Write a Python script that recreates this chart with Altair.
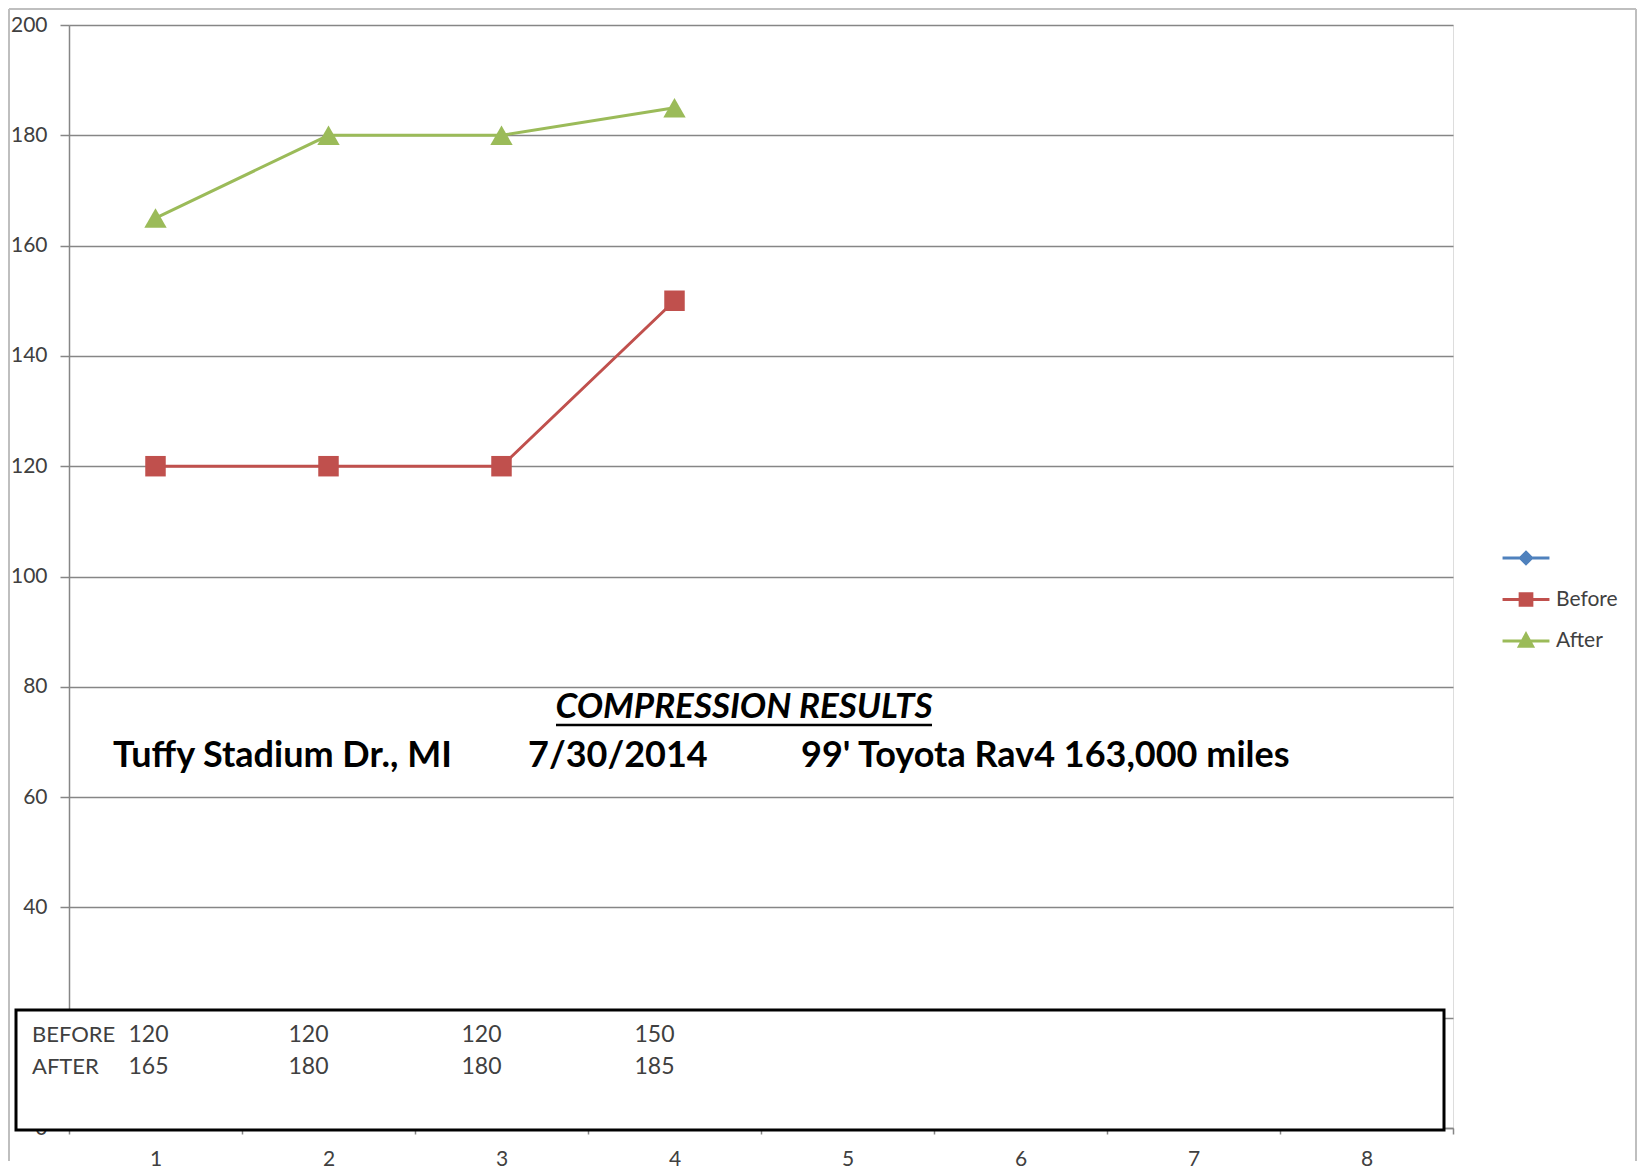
import altair as alt
import pandas as pd

# ---- data ----
categories = [1, 2, 3, 4, 5, 6, 7, 8]
measured = [1, 2, 3, 4]
before = [120, 120, 120, 150]
after = [165, 180, 180, 185]
series_names = [" ", "Before", "After"]
series_colors = ["#4F81BD", "#C0504D", "#9BBB59"]
legend_paths = [
    "M-1,0H1M0,-0.24L0.24,0L0,0.24L-0.24,0Z",
    "M-1,0H1M-0.25,-0.25H0.25V0.25H-0.25Z",
    "M-1,0H1M0,-0.29L0.28,0.22H-0.28Z",
]
y_ticks = [0, 20, 40, 60, 80, 100, 120, 140, 160, 180, 200]
box_rows = ["BEFORE", "AFTER"]
title_text = "COMPRESSION RESULTS"
subtitle_parts = ["Tuffy Stadium Dr., MI", "7/30/2014", "99' Toyota Rav4  163,000 miles"]

df = pd.DataFrame({
    "cyl": measured * 2,
    "psi": before + after,
    "series": ["Before"] * len(before) + ["After"] * len(after),
})
legend_df = pd.DataFrame({"series": series_names})

W, H = 1384, 1103
FONT = "Lato"

x_scale = alt.Scale(type="band", domain=categories, paddingInner=0, paddingOuter=0)
x_enc = alt.X(
    "cyl:O",
    scale=x_scale,
    axis=alt.Axis(
        title=None, labelAngle=0, labelFont=FONT, labelFontSize=21, labelColor="#404040",
        tickBand="extent", tickSize=6, tickColor="#868686", domainColor="#868686",
        domainWidth=1.5, tickWidth=1.5, labelPadding=14, grid=False,
    ),
)
y_enc = alt.Y(
    "psi:Q",
    scale=alt.Scale(domain=[0, 200], nice=False, zero=True),
    axis=alt.Axis(
        title=None, values=y_ticks, labelFont=FONT, labelFontSize=21, labelColor="#404040",
        tickSize=9, tickColor="#868686", domainColor="#868686", domainWidth=1.5,
        tickWidth=1.5, labelPadding=13, grid=True, gridColor="#868686", gridWidth=1.5,
    ),
)
color_scale = alt.Scale(domain=series_names, range=series_colors)

base = alt.Chart(df)

# legend-only layer (draws no marks, carries the legend)
legend_layer = alt.Chart(legend_df).transform_filter("false").mark_point(
    filled=True, size=2200, strokeWidth=3, opacity=1
).encode(
    color=alt.Color(
        "series:N", scale=color_scale,
        legend=alt.Legend(
            title=None, orient="none", legendX=1432, legendY=508, padding=0,
            labelFont=FONT, labelFontSize=21, labelColor="#404040", labelOffset=5,
            symbolSize=2200, symbolStrokeWidth=3, rowPadding=4.5,
        ),
    ),
    stroke=alt.Stroke("series:N", scale=alt.Scale(domain=series_names, range=series_colors)),
    shape=alt.Shape("series:N", scale=alt.Scale(domain=series_names, range=legend_paths)),
)

lines = base.mark_line(strokeWidth=3).encode(
    x=x_enc, y=y_enc, color=alt.Color("series:N", scale=color_scale, legend=None)
)
squares = base.transform_filter(alt.datum.series == "Before").mark_point(
    shape="square", filled=True, size=420, opacity=1, strokeWidth=0
).encode(x=x_enc, y=y_enc, color=alt.Color("series:N", scale=color_scale, legend=None))
triangles = base.transform_filter(alt.datum.series == "After").mark_point(
    shape="triangle-up", filled=True, size=500, opacity=1, strokeWidth=0
).encode(x=x_enc, y=y_enc, color=alt.Color("series:N", scale=color_scale, legend=None))

# text box with the readings
one_row = pd.DataFrame({"t": [title_text]})
box = alt.Chart(one_row).mark_rect(
    fill="white", stroke="black", strokeWidth=3
).encode(x=alt.value(-53), x2=alt.value(1375), y=alt.value(985), y2=alt.value(1105))

row_y = [1010, 1042]
row_label_marks = [
    alt.Chart(pd.DataFrame({"row": [r]})).mark_text(
        align="left", baseline="middle", font=FONT, fontSize=22, color="#404040"
    ).encode(x=alt.value(-37), y=alt.value(yy), text="row:N")
    for r, yy in zip(box_rows, row_y)
]
value_marks = []
for s, yy in zip(["Before", "After"], row_y):
    for cond, shift in [(alt.datum.cyl == 1, -27), (alt.datum.cyl > 1, -40)]:
        value_marks.append(
            base.transform_filter(alt.datum.series == s).transform_filter(cond).mark_text(
                align="left", baseline="middle", font=FONT, fontSize=23, color="#404040", dx=shift
            ).encode(x=alt.X("cyl:O", scale=x_scale), y=alt.value(yy), text="psi:Q")
        )

title_mark = alt.Chart(one_row).mark_text(
    align="center", baseline="middle", font=FONT, fontSize=35, fontWeight="bold",
    fontStyle="italic", color="black"
).encode(x=alt.value(675), y=alt.value(682), text="t:N")
underline = alt.Chart(one_row).mark_rule(color="black", strokeWidth=2.5).encode(
    x=alt.value(487), x2=alt.value(863), y=alt.value(700)
)

sub_x = [44, 459, 732]
sub_marks = [
    alt.Chart(pd.DataFrame({"part": [p]})).mark_text(
        align="left", baseline="middle", font=FONT, fontSize=36, fontWeight="bold", color="black"
    ).encode(x=alt.value(xx), y=alt.value(731), text="part:N")
    for p, xx in zip(subtitle_parts, sub_x)
]

# outer chart-area border (Excel chart frame)
frame_src = alt.Chart(one_row)
frame = [
    frame_src.mark_rule(color="#BFBFBF", strokeWidth=2).encode(x=alt.value(-60), y=alt.value(-16), y2=alt.value(1136)),
    frame_src.mark_rule(color="#BFBFBF", strokeWidth=2).encode(x=alt.value(-60), x2=alt.value(1567), y=alt.value(-16)),
    frame_src.mark_rule(color="#BFBFBF", strokeWidth=2).encode(x=alt.value(1567), y=alt.value(-16), y2=alt.value(1136)),
]

chart = alt.layer(
    legend_layer, lines, squares, triangles, box, *row_label_marks, *value_marks,
    title_mark, underline, *sub_marks, *frame
).properties(
    width=W, height=H, padding=0
).configure_view(stroke=None).configure(background="white")

chart.save("out.html", embed_options={"renderer": "svg", "actions": False})
